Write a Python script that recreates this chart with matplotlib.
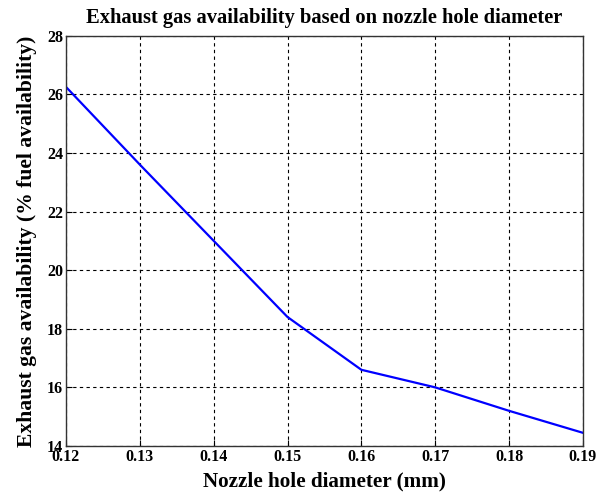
import matplotlib
matplotlib.use('Agg')
import matplotlib.pyplot as plt

# nozzle hole diameter (mm) vs exhaust gas availability (% of fuel availability)
diameter = [0.12, 0.13, 0.14, 0.15, 0.16, 0.17, 0.18, 0.19]
availability = [26.25, 23.6, 21.0, 18.4, 16.6, 16.0, 15.2, 14.45]
x_ticks = [0.12, 0.13, 0.14, 0.15, 0.16, 0.17, 0.18, 0.19]
y_ticks = [14, 16, 18, 20, 22, 24, 26, 28]

plt.rcParams['font.family'] = ['Liberation Serif', 'DejaVu Serif']

fig = plt.figure(figsize=(6.11, 4.95), dpi=100)
ax = fig.add_axes([0.108, 0.099, 0.846, 0.829])

ax.plot(diameter, availability, color='#0000ff', linewidth=1.6)

ax.set_xlim(0.12, 0.19)
ax.set_ylim(14, 28)
ax.set_xticks(x_ticks)
ax.set_xticklabels(['%.2f' % v for v in x_ticks], fontweight='bold', fontsize=11.5)
ax.set_yticks(y_ticks)
ax.set_yticklabels([str(v) for v in y_ticks], fontweight='bold', fontsize=11.5)
ax.tick_params(direction='in', length=4, width=0.8, color='black', pad=2)

ax.grid(True, color='black', linestyle=(0, (3, 3)), linewidth=0.8)
for s in ax.spines.values():
    s.set_color('#333333')
    s.set_linewidth(1.0)

ax.set_title('Exhaust gas availability based on nozzle hole diameter',
             fontsize=14.8, fontweight='bold', pad=9)
ax.set_xlabel('Nozzle hole diameter (mm)', fontsize=15.2, fontweight='bold', labelpad=5)
ax.set_ylabel('Exhaust gas availability (% fuel availability)', fontsize=15.6,
              fontweight='bold', labelpad=7)

fig.savefig('out.png', dpi=100)
